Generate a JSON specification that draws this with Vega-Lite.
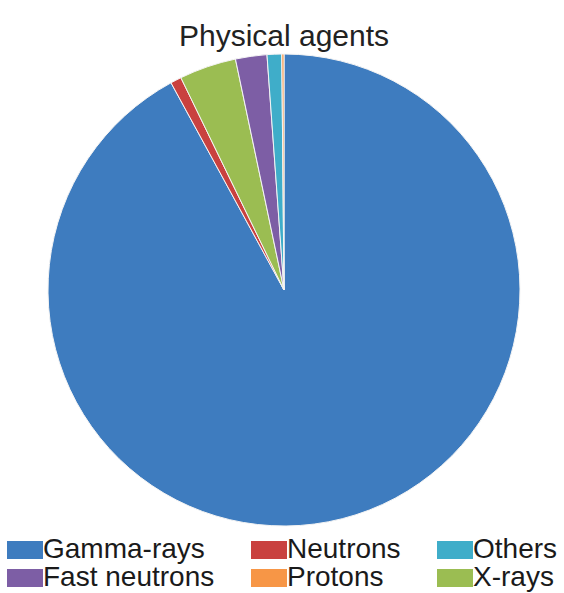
{
  "$schema": "https://vega.github.io/schema/vega-lite/v6.json",
  "width": 568,
  "height": 480,
  "autosize": {"type": "none"},
  "padding": {"left": 0, "top": 50, "right": 0, "bottom": 63},
  "title": {
    "text": "Physical agents",
    "fontSize": 30,
    "font": "Liberation Sans",
    "fontWeight": "normal",
    "color": "#222222",
    "anchor": "middle",
    "frame": "group",
    "baseline": "alphabetic",
    "offset": -26
  },
  "data": {
    "values": [
      {"agent": "Gamma-rays", "share": 92.1, "slice": 1},
      {"agent": "Neutrons", "share": 0.75, "slice": 2},
      {"agent": "X-rays", "share": 3.9, "slice": 3},
      {"agent": "Fast neutrons", "share": 2.15, "slice": 4},
      {"agent": "Others", "share": 1.0, "slice": 5},
      {"agent": "Protons", "share": 0.15, "slice": 6}
    ]
  },
  "mark": {"type": "arc", "outerRadius": 236, "stroke": "#f4f4f4", "strokeWidth": 1},
  "encoding": {
    "theta": {"field": "share", "type": "quantitative", "stack": true},
    "order": {"field": "slice", "type": "quantitative"},
    "color": {
      "field": "agent",
      "type": "nominal",
      "scale": {
        "domain": ["Gamma-rays", "Neutrons", "Others", "Fast neutrons", "Protons", "X-rays"],
        "range": ["#3e7cbf", "#c9413f", "#3fadc9", "#7d5ea5", "#f79646", "#9bbd52"]
      },
      "legend": {
        "title": null,
        "orient": "none",
        "legendX": 11,
        "legendY": 486,
        "direction": "horizontal",
        "columns": 3,
        "columnPadding": 36,
        "rowPadding": -7,
        "padding": 0,
        "labelFontSize": 28,
        "labelFont": "Liberation Sans",
        "labelColor": "#1a1a1a",
        "labelLimit": 400,
        "labelOffset": 4,
        "symbolType": "M-2,-1H2V1H-2Z",
        "symbolSize": 324,
        "symbolStrokeWidth": 0,
        "symbolOpacity": 1
      }
    }
  },
  "config": {"view": {"stroke": null}, "background": "white"}
}
